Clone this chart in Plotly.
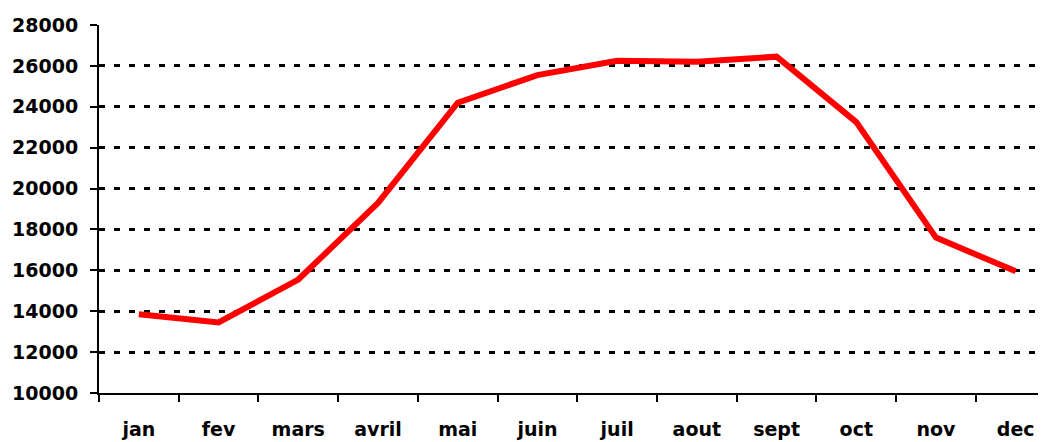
import plotly.graph_objects as go

mois = ["jan", "fev", "mars", "avril", "mai", "juin",
        "juil", "aout", "sept", "oct", "nov", "dec"]
valeurs = [13850, 13450, 15550, 19300, 24200, 25550,
           26250, 26200, 26450, 23250, 17600, 15950]
y_ticks = list(range(10000, 28001, 2000))

fig = go.Figure()

# courbe mensuelle
fig.add_trace(go.Scatter(
    x=mois,
    y=valeurs,
    mode="lines",
    line=dict(color="#FF0000", width=6),
    showlegend=False,
))

axis_font = dict(family="DejaVu Sans", size=19, color="black", weight="bold")

# la page ajoute une marge de 8px en haut et a gauche
fig.update_layout(
    width=1038,
    height=434,
    margin=dict(l=91, r=0, t=17, b=49),
    paper_bgcolor="white",
    plot_bgcolor="white",
    xaxis=dict(
        type="category",
        range=[-0.5, 11.38],
        showline=True,
        linecolor="black",
        linewidth=2,
        ticks="outside",
        tickson="boundaries",
        ticklen=7,
        tickwidth=2,
        tickcolor="black",
        showgrid=False,
        tickfont=axis_font,
        ticklabelstandoff=18,
    ),
    yaxis=dict(
        range=[10000, 28000],
        tickvals=y_ticks,
        ticktext=[str(v) for v in y_ticks],
        showline=True,
        linecolor="black",
        linewidth=2,
        ticks="outside",
        ticklen=7,
        tickwidth=2,
        tickcolor="black",
        showgrid=True,
        gridcolor="black",
        gridwidth=2.5,
        griddash="6px,9px",
        zeroline=False,
        tickfont=axis_font,
        ticklabelstandoff=8,
    ),
)

fig.write_html("out.html")
